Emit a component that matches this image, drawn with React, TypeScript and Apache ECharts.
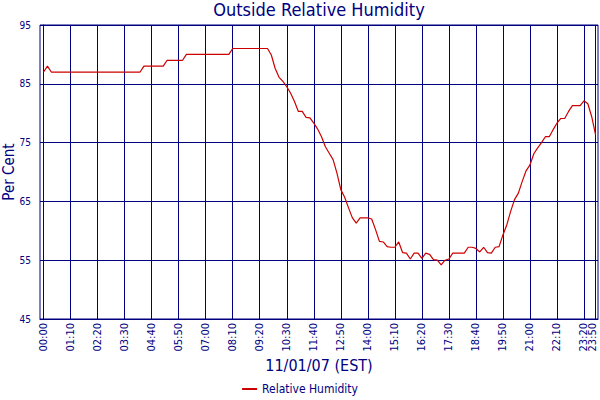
import React, { useEffect, useRef } from 'react'
import * as echarts from 'echarts'

// readings every 10 minutes, 00:00 .. 23:50
const sampleStep = 10
const humidity = [
  87, 88, 87, 87, 87, 87,
  87, 87, 87, 87, 87, 87,
  87, 87, 87, 87, 87, 87,
  87, 87, 87, 87, 87, 87,
  87, 87, 88, 88, 88, 88,
  88, 88, 89, 89, 89, 89,
  89, 90, 90, 90, 90, 90,
  90, 90, 90, 90, 90, 90,
  90, 91, 91, 91, 91, 91,
  91, 91, 91, 91, 91, 89.9,
  87.6, 86.1, 85.4, 84.5, 83.4, 82,
  80.3, 80.3, 79.3, 79.2, 78.3, 77.3,
  76, 74.3, 73.2, 72.1, 69.8, 67,
  65.7, 63.9, 62.2, 61.3, 62.2, 62.2,
  62.2, 62, 60.2, 58.2, 58.1, 57.3,
  57.2, 57.2, 58.1, 56.3, 56.2, 55.2,
  56.2, 56.2, 55.3, 56.2, 56, 55.1,
  55, 54.2, 55, 55.2, 56.2, 56.2,
  56.2, 56.2, 57.2, 57.2, 57, 56.4,
  57.2, 56.3, 56.2, 57.2, 57.3, 59.3,
  61, 63.3, 65.3, 66.4, 68.4, 70.2,
  71.2, 73.1, 74.1, 75, 76, 76,
  77.2, 78.3, 79.1, 79.1, 80.3, 81.3,
  81.3, 81.3, 82.1, 81.6, 79.4, 76.3,
]

const timeTicks = [
  '00:00', '01:10', '02:20', '03:30', '04:40', '05:50', '07:00', '08:10',
  '09:20', '10:30', '11:40', '12:50', '14:00', '15:10', '16:20', '17:30',
  '18:40', '19:50', '21:00', '22:10', '23:20', '23:50',
]
const percentTicks = [45, 55, 65, 75, 85, 95]

const NAVY = '#000080'
const FONT = "'DejaVu Sans Condensed', 'DejaVu Sans', sans-serif"

const toMinutes = (s: string) => {
  const [h, m] = s.split(':').map(Number)
  return h * 60 + m
}
const toClock = (v: number) => {
  const h = Math.floor(v / 60)
  const m = Math.round(v % 60)
  return `${String(h).padStart(2, '0')}:${String(m).padStart(2, '0')}`
}

const App = () => {
  const chartRef = useRef<HTMLDivElement>(null)

  useEffect(() => {
    if (!chartRef.current) return
    const chart = echarts.init(chartRef.current, undefined, { renderer: 'svg' })

    const tickMinutes = timeTicks.map(toMinutes)
    const lastTick = tickMinutes[tickMinutes.length - 1]

    const option = {
      animation: false,
      textStyle: { fontFamily: FONT },
      title: {
        text: 'Outside Relative Humidity',
        left: 319,
        top: 0,
        padding: 0,
        textAlign: 'center',
        textStyle: { color: NAVY, fontSize: 18, fontWeight: 'normal', fontFamily: FONT },
      },
      grid: {
        left: 40,
        right: 2,
        top: 25,
        bottom: 81,
        outerBoundsMode: 'none',
        containLabel: false,
        show: true,
        borderColor: NAVY,
        borderWidth: 1,
      },
      legend: {
        top: 383,
        left: 'center',
        padding: 0,
        icon: 'rect',
        itemWidth: 15,
        itemHeight: 2,
        textStyle: { color: NAVY, fontSize: 12, fontFamily: FONT },
        data: ['Relative Humidity'],
      },
      xAxis: {
        type: 'value',
        min: -9.3,
        max: 1436.3,
        name: '11/01/07 (EST)',
        nameLocation: 'middle',
        nameGap: 38,
        nameMoveOverlap: false,
        nameTextStyle: { color: NAVY, fontSize: 16, fontFamily: FONT },
        axisLine: { show: true, lineStyle: { color: NAVY } },
        axisTick: { show: false, customValues: tickMinutes },
        axisLabel: {
          // the last one is drawn below, nudged in from the right border
          customValues: tickMinutes.slice(0, -1),
          rotate: 90,
          margin: 4,
          color: NAVY,
          fontSize: 11,
          fontFamily: FONT,
          formatter: (v: number) => toClock(v),
        },
        splitLine: { show: true, lineStyle: { color: NAVY, width: 1 } },
      },
      yAxis: {
        type: 'value',
        min: 45,
        max: 95,
        name: 'Per Cent',
        nameLocation: 'middle',
        nameGap: 24,
        nameMoveOverlap: false,
        nameTextStyle: { color: NAVY, fontSize: 15, fontFamily: FONT },
        axisLine: { show: true, lineStyle: { color: NAVY } },
        axisTick: { show: false, customValues: percentTicks },
        axisLabel: {
          customValues: percentTicks,
          margin: 9,
          color: NAVY,
          fontSize: 10,
          fontFamily: FONT,
        },
        splitLine: { show: true, lineStyle: { color: NAVY, width: 1 } },
      },
      series: [
        {
          name: 'Relative Humidity',
          type: 'line',
          showSymbol: false,
          symbol: 'none',
          color: '#cc0000',
          lineStyle: { color: '#cc0000', width: 1.2 },
          data: humidity.map((v, i) => [i * sampleStep, v]),
        },
      ],
    }

    chart.setOption(option as any)

    const px = chart.convertToPixel({ xAxisIndex: 0 }, lastTick) as number
    const py = chart.convertToPixel({ yAxisIndex: 0 }, percentTicks[0]) as number
    chart.setOption({
      graphic: [
        {
          type: 'text',
          x: px - 3.5,
          y: py + 4,
          rotation: Math.PI / 2,
          style: {
            text: toClock(lastTick),
            align: 'right',
            verticalAlign: 'middle',
            fill: NAVY,
            fontSize: 11,
            fontFamily: FONT,
          },
        },
      ],
    })

    return () => {
      chart.dispose()
    }
  }, [])

  return (
    <div
      ref={chartRef}
      style={{ position: 'fixed', left: 0, top: 0, width: 600, height: 400, background: '#fff' }}
    />
  )
}

export default App
